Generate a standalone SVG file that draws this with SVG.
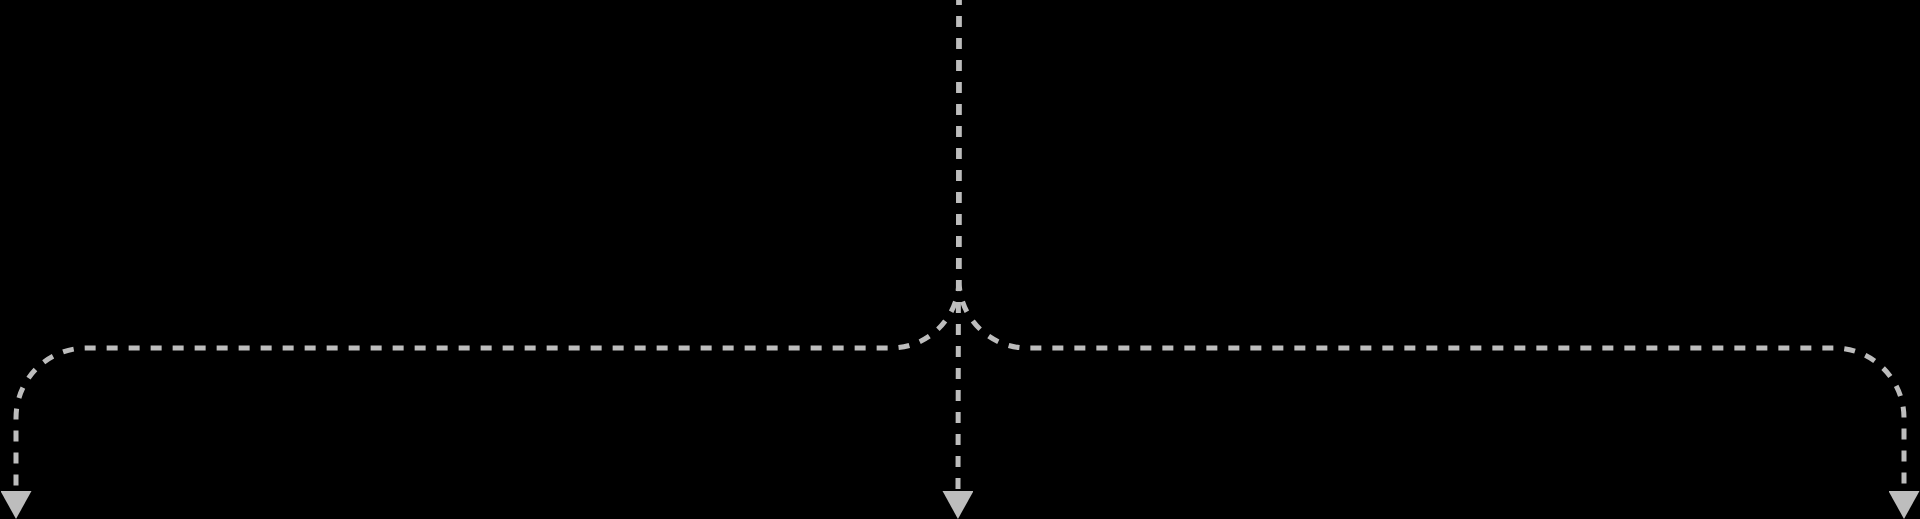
<svg xmlns="http://www.w3.org/2000/svg" width="1920" height="519" viewBox="0 0 1920 519">
  <style>
    .edge { fill: none; stroke: #bdbdbd; stroke-width: 5; stroke-dasharray: 11 11; stroke-dashoffset: 6; }
    .head { fill: #bdbdbd; stroke: none; }
  </style>
  <defs>
    <marker id="arrow" viewBox="0 0 28 31" refX="0" refY="15.5" markerWidth="28" markerHeight="31" markerUnits="userSpaceOnUse" orient="auto">
      <path class="head" d="M0 0 L28 15.5 L0 31 Z"/>
    </marker>
  </defs>
  <rect x="0" y="0" width="1920" height="519" fill="#000000"/>
  <g id="connectors">
    <path id="edge-left" class="edge" marker-end="url(#arrow)" d="M959 0 L959 280 A68 68 0 0 1 891 348 L86 348 A70 70 0 0 0 16 418 L16 491"/>
    <path id="edge-middle" class="edge" marker-end="url(#arrow)" d="M959 0 L958 491"/>
    <path id="edge-right" class="edge" marker-end="url(#arrow)" d="M959 0 L959 280 A68 68 0 0 0 1027 348 L1834 348 A70 70 0 0 1 1904 418 L1904 491"/>
  </g>
</svg>
